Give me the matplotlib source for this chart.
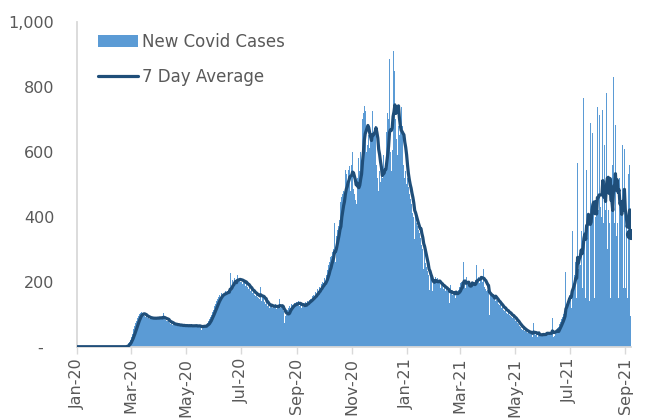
import matplotlib
matplotlib.use('Agg')
import matplotlib.pyplot as plt
import matplotlib.dates as mdates
from matplotlib.ticker import FuncFormatter, MultipleLocator
import pandas as pd

# daily new cases
jan20 = [0, 0, 0, 0, 0, 0, 0, 0, 0, 0, 0, 0, 0, 0, 0, 0, 0, 0, 0, 0,
         0, 0, 0, 0, 0, 0, 0, 0, 0, 0, 0]
feb20 = [0, 0, 0, 0, 0, 0, 0, 0, 0, 0, 0, 0, 0, 0, 0, 0, 0, 0, 0, 0,
         0, 0, 0, 0, 3, 6, 10, 15, 22]
mar20 = [30, 38, 46, 55, 64, 72, 80, 88, 95, 100, 104, 108, 102, 98, 100, 96,
         92, 94, 88, 90, 86, 92, 85, 88, 90, 84, 89, 86, 91, 87, 90]
apr20 = [88, 92, 85, 90, 86, 104, 84, 82, 80, 78, 83, 76, 74, 70, 72, 68,
         71, 69, 66, 70, 67, 64, 69, 66, 63, 68, 65, 62, 67, 64]
may20 = [66, 63, 67, 62, 65, 64, 68, 61, 64, 66, 62, 67, 65, 60, 63, 66,
         64, 50, 67, 65, 63, 66, 64, 68, 72, 78, 85, 92, 99, 106, 112]
jun20 = [114, 125, 132, 140, 146, 152, 160, 150, 164, 158, 170, 163, 165, 170,
         160, 172, 168, 176, 226, 170, 196, 204, 192, 212, 206, 198, 220, 204,
         210, 200]
jul20 = [206, 200, 194, 208, 196, 188, 202, 184, 176, 186, 178, 170, 174, 164,
         170, 160, 156, 166, 154, 150, 160, 148, 184, 140, 156, 150, 136, 130,
         138, 124, 130]
aug20 = [128, 120, 126, 132, 118, 125, 122, 130, 116, 127, 124, 120, 148, 118,
         124, 122, 110, 72, 96, 100, 98, 112, 118, 124, 120, 130, 128, 122,
         134, 140, 128]
sep20 = [136, 130, 142, 124, 134, 120, 128, 122, 132, 125, 138, 130, 142, 136,
         144, 148, 140, 156, 150, 160, 154, 168, 162, 176, 170, 184, 180, 192,
         188, 200]
oct20 = [196, 210, 192, 220, 236, 250, 262, 275, 262, 278, 290, 300, 380, 260,
         340, 360, 372, 390, 420, 445, 459, 470, 480, 464, 545, 530, 500, 545,
         520, 556, 480]
nov20 = [560, 600, 484, 470, 450, 440, 520, 480, 580, 540, 600, 560, 700, 720,
         740, 724, 600, 660, 620, 650, 610, 660, 640, 724, 650, 660, 680, 700,
         560, 520]
dec20 = [480, 540, 507, 560, 520, 590, 540, 555, 550, 660, 720, 700, 886, 600,
         540, 605, 909, 820, 848, 700, 640, 590, 680, 650, 660, 736, 678, 600,
         560, 520, 540]
jan21 = [500, 520, 490, 470, 455, 440, 430, 410, 400, 330, 420, 380, 372, 360,
         350, 335, 325, 312, 300, 240, 300, 258, 245, 232, 220, 175, 200, 230,
         205, 172, 200]
feb21 = [205, 215, 198, 212, 195, 188, 200, 182, 190, 185, 178, 192, 170, 180,
         172, 165, 175, 134, 190, 172, 158, 170, 165, 150, 172, 160, 168, 175]
mar21 = [185, 195, 200, 190, 261, 205, 180, 134, 215, 200, 195, 188, 192, 185,
         200, 190, 198, 184, 205, 250, 200, 215, 196, 208, 218, 200, 240, 195,
         185, 178, 170]
apr21 = [175, 178, 98, 170, 162, 158, 160, 150, 148, 140, 145, 140, 132, 128,
         135, 120, 118, 122, 112, 110, 118, 105, 102, 108, 98, 95, 100, 90,
         88, 92]
may21 = [85, 80, 78, 72, 70, 65, 60, 62, 55, 52, 58, 48, 50, 45, 42, 48,
         40, 44, 46, 38, 30, 72, 40, 36, 42, 30, 38, 40, 35, 38, 36]
jun21 = [38, 40, 34, 42, 36, 62, 38, 35, 40, 36, 42, 88, 30, 34, 44, 48,
         52, 58, 62, 70, 75, 85, 92, 100, 110, 122, 230, 118, 140, 150]
jul21 = [160, 150, 120, 357, 170, 200, 220, 260, 150, 566, 240, 260, 250, 357,
         180, 280, 766, 330, 150, 545, 380, 400, 140, 688, 380, 420, 657, 430,
         150, 400, 420]
aug21 = [736, 420, 713, 430, 150, 400, 728, 380, 620, 420, 780, 300, 420, 380,
         703, 150, 420, 560, 830, 380, 683, 340, 380, 150, 620, 520, 420, 420,
         622, 180, 607]
sep21 = [180, 420, 150, 500, 530, 560, 93]

months = [jan20, feb20, mar20, apr20, may20, jun20, jul20, aug20, sep20,
          oct20, nov20, dec20, jan21, feb21, mar21, apr21, may21, jun21,
          jul21, aug21, sep21]
cases = pd.Series([v for m in months for v in m],
                  index=pd.date_range('2020-01-01', periods=sum(len(m) for m in months), freq='D'))
avg7 = cases.rolling(7, min_periods=1).mean()

GREY = '#595959'
AXIS = '#d9d9d9'
BAR = '#5b9bd5'
LINE = '#1f4e79'

plt.rcParams['font.family'] = ['DejaVu Sans']

fig = plt.figure(figsize=(6.63, 4.2), dpi=100)
ax = fig.add_axes([0.1157, 0.1745, 0.8363, 0.774])

bars = ax.bar(cases.index, cases.values, width=1.0, color=BAR, linewidth=0,
              label='New Covid Cases', zorder=2)
line, = ax.plot(avg7.index, avg7.values, color=LINE, lw=2.3, label='7 Day Average',
                zorder=3, solid_capstyle='round')
ax.plot(avg7.index[-1], avg7.values[-1], 'o', color=LINE, ms=7, zorder=4)

ax.set_ylim(0, 1000)
ax.set_xlim(cases.index[0] - pd.Timedelta(hours=12),
            cases.index[-1] + pd.Timedelta(hours=12))
ax.yaxis.set_major_locator(MultipleLocator(200))
ax.yaxis.set_major_formatter(FuncFormatter(lambda v, p: '-  ' if v == 0 else f'{v:,.0f}'))
ax.xaxis.set_major_locator(mdates.MonthLocator(bymonth=[1, 3, 5, 7, 9, 11]))
ax.xaxis.set_major_formatter(mdates.DateFormatter('%b-%y'))

for s in ['top', 'right']:
    ax.spines[s].set_visible(False)
for s in ['left', 'bottom']:
    ax.spines[s].set_color(AXIS)
    ax.spines[s].set_linewidth(1.3)
ax.tick_params(axis='y', length=0, pad=16, labelsize=11.5, labelcolor=GREY)
ax.tick_params(axis='x', length=5, width=1, color=AXIS, pad=3,
               labelsize=11.5, labelcolor=GREY, labelrotation=90)

leg = ax.legend(handles=[bars, line], loc='upper left',
                bbox_to_anchor=(98 / 663, 1 - 33 / 420),
                bbox_transform=fig.transFigure, frameon=False, fontsize=12,
                handlelength=2.4, handletextpad=0.25, labelspacing=1.0,
                borderpad=0, borderaxespad=0)
for t in leg.get_texts():
    t.set_color(GREY)

fig.savefig('out.png', dpi=100)
